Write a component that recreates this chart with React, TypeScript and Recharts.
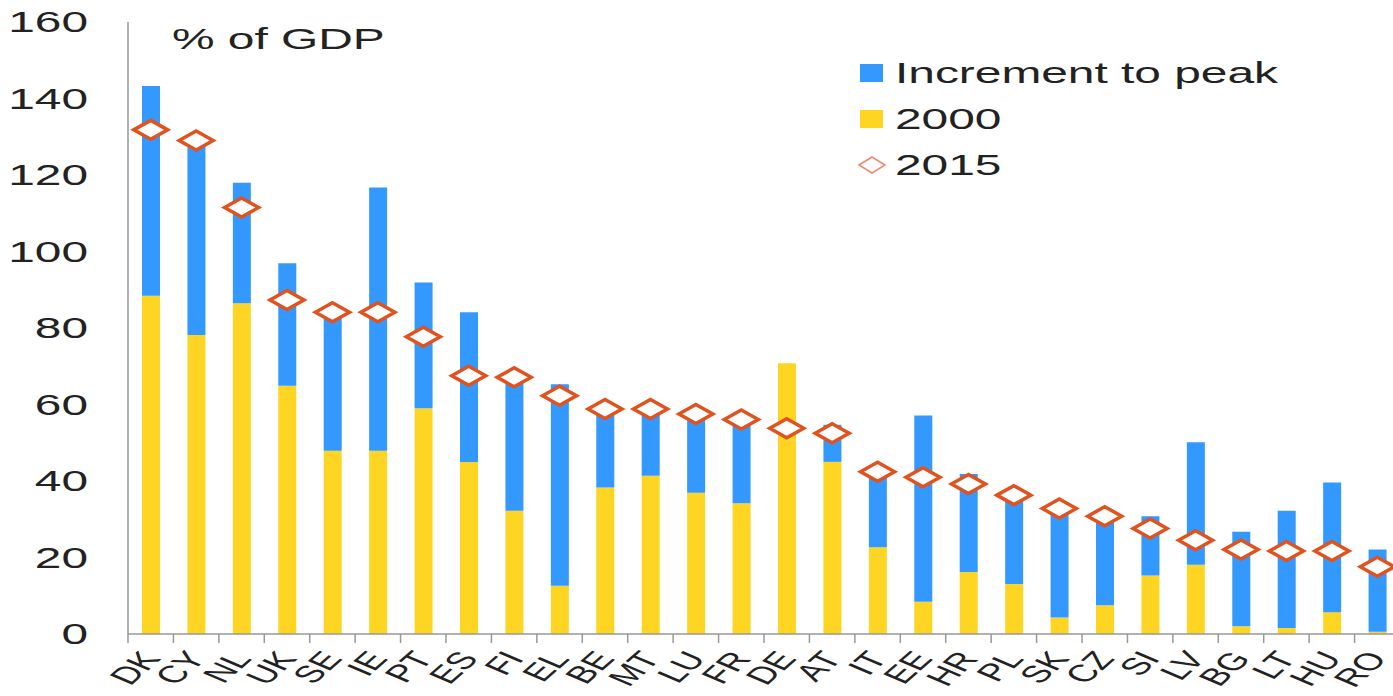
import { ComposedChart, Bar, Line, XAxis, YAxis, Legend } from 'recharts';

// country codes, in the order of the chart
const countries = [
    'DK', 'CY', 'NL', 'UK', 'SE', 'IE', 'PT', 'ES', 'FI', 'EL', 'BE', 'MT', 'LU', 'FR',
    'DE', 'AT', 'IT', 'EE', 'HR', 'PL', 'SK', 'CZ', 'SI', 'LV', 'BG', 'LT', 'HU', 'RO'
];

// level in 2000, % of GDP
const level2000 = [
    88.4, 78.2, 86.5, 64.9, 47.9, 47.9, 59.0, 45.0, 32.2, 12.6, 38.3, 41.4, 36.9, 34.2,
    70.8, 45.0, 22.7, 8.4, 16.2, 13.1, 4.3, 7.5, 15.3, 18.1, 2.0, 1.6, 5.7, 0.6
];

// increment from 2000 to peak
const incrementToPeak = [
    54.9, 50.3, 31.5, 32.0, 35.1, 68.8, 32.9, 39.1, 33.8, 52.7, 19.2, 16.6, 19.6, 20.8,
    0, 9.7, 19.3, 48.7, 25.6, 22.4, 27.2, 22.5, 15.5, 32.0, 24.7, 30.6, 33.9, 21.5
];

// level in 2015
const level2015 = [
    131.8, 129.0, 111.5, 87.3, 84.1, 84.1, 77.7, 67.5, 67.1, 62.3, 58.8, 58.8, 57.5, 56.1,
    53.8, 52.5, 42.4, 41.0, 39.2, 36.3, 32.8, 30.8, 27.6, 24.5, 22.1, 21.7, 21.7, 17.6
];

const yTicks = [0, 20, 40, 60, 80, 100, 120, 140, 160];

const legendOrder = ['Increment to peak', '2000', '2015'];

const BLUE = '#3399ff';
const YELLOW = '#ffd524';
const ORANGE = '#e0521e';
const FONT = '"Liberation Sans", Arial, sans-serif';
const STRETCH = 1.65; // the reference is stretched horizontally

const chartData = countries.map((c, i) => ({
    country: c,
    v2000: level2000[i],
    increment: incrementToPeak[i],
    v2015: level2015[i],
}));

function YTick(props: any) {
    const { x, y, payload } = props;
    return (
        <g transform={`translate(${x},${y}) scale(${STRETCH},1)`}>
            <text x={0} y={0} dy="0.35em" textAnchor="end" fontSize={29} fill="#222" fontFamily={FONT}>
                {payload.value}
            </text>
        </g>
    );
}

function XTick(props: any) {
    const { x, y, payload } = props;
    const half = payload.offset || 22.7;
    return (
        <g>
            <line x1={x - half} y1={y} x2={x - half} y2={y + 9} stroke="#999" strokeWidth={1.5} />
            <g transform={`translate(${x + 11},${y + 25}) scale(${STRETCH},1) rotate(-55)`}>
                <text x={0} y={0} textAnchor="end" fontSize={24} fill="#222" fontFamily={FONT}>
                    {payload.value}
                </text>
            </g>
        </g>
    );
}

function Diamond(props: any) {
    const { cx, cy, index } = props;
    if (typeof cx !== 'number' || typeof cy !== 'number') return <g key={index} />;
    const w = 17;
    const h = 9.5;
    return (
        <polygon
            key={index}
            points={`${cx - w},${cy} ${cx},${cy - h} ${cx + w},${cy} ${cx},${cy + h}`}
            fill="#ffffff"
            stroke={ORANGE}
            strokeWidth={3.5}
        />
    );
}

function LegendIcon({ name }: { name: string }) {
    if (name === '2015') {
        return (
            <svg width={30} height={22}>
                <polygon points="2,11 15,3 28,11 15,19" fill="#fff" stroke="#f2876a" strokeWidth={1.5} />
            </svg>
        );
    }
    return (
        <svg width={30} height={22}>
            <rect x={3} y={2} width={23} height={18} fill={name === '2000' ? YELLOW : BLUE} />
        </svg>
    );
}

function LegendBox(props: any) {
    const items = [...(props.payload || [])].sort(
        (a: any, b: any) => legendOrder.indexOf(a.value) - legendOrder.indexOf(b.value)
    );
    return (
        <div style={{ fontFamily: FONT }}>
            {items.map((item: any) => (
                <div key={item.value} style={{ display: 'flex', alignItems: 'center', height: 46, whiteSpace: 'nowrap' }}>
                    <LegendIcon name={item.value} />
                    <span
                        style={{
                            display: 'inline-block',
                            marginLeft: 8,
                            fontSize: 29,
                            color: '#222',
                            transform: `scaleX(${STRETCH})`,
                            transformOrigin: 'left center',
                        }}
                    >
                        {item.value}
                    </span>
                </div>
            ))}
        </div>
    );
}

export default function App() {
    return (
        <div style={{ position: 'absolute', left: 0, top: 0, width: 1393, height: 696, overflow: 'hidden', background: '#fff' }}>
            <ComposedChart
                width={1400}
                height={696}
                data={chartData}
                margin={{ top: 22, right: 0, bottom: 0, left: 0 }}
                barCategoryGap={0}
            >
                <XAxis
                    dataKey="country"
                    interval={0}
                    height={62}
                    tickLine={false}
                    tickSize={0}
                    tickMargin={0}
                    axisLine={{ stroke: '#999', strokeWidth: 1.5 }}
                    tick={<XTick />}
                />
                <YAxis
                    width={128}
                    domain={[0, 160]}
                    ticks={yTicks}
                    tickLine={false}
                    tickSize={0}
                    tickMargin={40}
                    axisLine={{ stroke: '#999', strokeWidth: 1.5 }}
                    tick={<YTick />}
                />
                <Legend
                    layout="vertical"
                    align="center"
                    verticalAlign="middle"
                    wrapperStyle={{ top: 50, left: 857, width: 500 }}
                    content={<LegendBox />}
                />
                <Bar dataKey="v2000" name="2000" stackId="a" fill={YELLOW} barSize={18} isAnimationActive={false} />
                <Bar dataKey="increment" name="Increment to peak" stackId="a" fill={BLUE} barSize={18} isAnimationActive={false} />
                <Line
                    dataKey="v2015"
                    name="2015"
                    stroke="none"
                    dot={Diamond}
                    activeDot={false}
                    isAnimationActive={false}
                />
            </ComposedChart>
            <div
                style={{
                    position: 'absolute',
                    left: 172,
                    top: 25,
                    fontFamily: FONT,
                    fontSize: 29,
                    lineHeight: '29px',
                    color: '#222',
                    whiteSpace: 'nowrap',
                    transform: `scaleX(${STRETCH})`,
                    transformOrigin: 'left center',
                }}
            >
                % of GDP
            </div>
        </div>
    );
}
